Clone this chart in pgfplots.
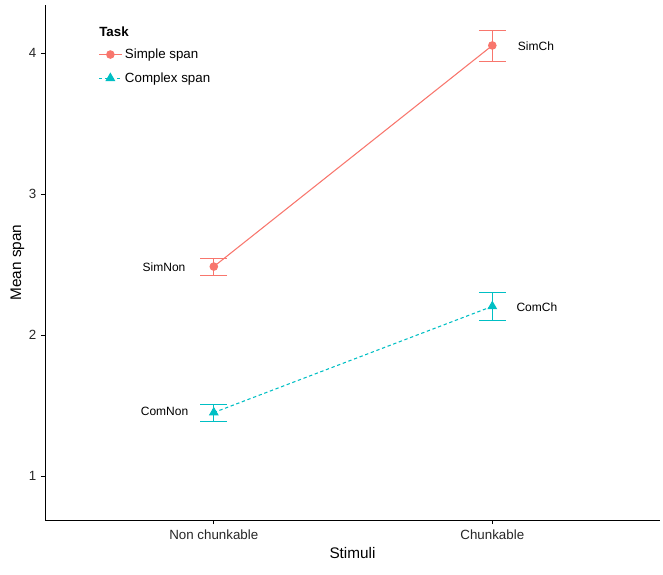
\documentclass[border=0pt]{standalone}
\usepackage{pgfplots}
\pgfplotsset{compat=1.18}
\usepackage{fontspec}
\setmainfont{Liberation Sans}
\definecolor{cr}{HTML}{F8766D}
\definecolor{cb}{HTML}{00BFC4}
\begin{document}
\begin{tikzpicture}
\useasboundingbox (0,0) rectangle (497.25pt,430.5pt);
\begin{axis}[
  at={(33.75pt,40.5pt)}, anchor=south west,
  scale only axis, width=461.25pt, height=386.25pt,
  xmin=-0.606, xmax=1.602, ymin=0.688, ymax=4.34,
  axis x line*=bottom, axis y line*=left,
  axis line style={black, line width=0.6pt, -},
  xtick={0,1}, xticklabels={Non chunkable, Chunkable},
  ytick={1,2,3,4},
  tick align=outside, major tick length=3pt,
  tick style={black, line width=0.5pt},
  tick label style={font=\fontsize{10}{12}\selectfont, text=black!85},
  xticklabel style={yshift=-1pt},
  /pgf/number format/assume math mode=true,
  xlabel={Stimuli}, ylabel={Mean span},
  label style={font=\fontsize{11.5}{13}\selectfont},
  xlabel style={yshift=1pt},
  ylabel style={yshift=-3.5pt},
  legend style={at={(axis description cs:0.08,0.926)}, anchor=north west, draw=none, fill=none,
    font=\fontsize{10}{12}\selectfont, row sep=5pt},
  legend cell align=left,
]
\addplot[cr, line width=0.8pt, mark=*, mark size=2.8pt, mark options={solid},
  error bars/.cd, y dir=both, y explicit,
  error bar style={cr, line width=0.6pt, solid},
  error mark options={cr, line width=0.6pt, mark size=10pt, rotate=90}]
  coordinates {(0,2.485) +- (0,0.06) (1,4.053) +- (0,0.11)};
\addlegendentry{Simple span}
\addplot[cb, line width=0.8pt, dash pattern=on 2.5pt off 2pt, mark=triangle*, mark size=3.5pt, mark options={solid},
  error bars/.cd, y dir=both, y explicit,
  error bar style={cb, line width=0.6pt, solid},
  error mark options={cb, line width=0.6pt, mark size=10pt, solid, rotate=90}]
  coordinates {(0,1.45) +- (0,0.06) (1,2.203) +- (0,0.097)};
\addlegendentry{Complex span}
\node[anchor=west, font=\bfseries\fontsize{10}{12}\selectfont] at (axis cs:-0.428,4.15) {Task};
\node[anchor=east, font=\fontsize{9}{10}\selectfont] at (axis cs:-0.085,2.48) {SimNon};
\node[anchor=east, font=\fontsize{9}{10}\selectfont] at (axis cs:-0.075,1.455) {ComNon};
\node[anchor=west, font=\fontsize{9}{10}\selectfont] at (axis cs:1.075,4.05) {SimCh};
\node[anchor=west, font=\fontsize{9}{10}\selectfont] at (axis cs:1.07,2.2) {ComCh};
\end{axis}
\end{tikzpicture}
\end{document}
